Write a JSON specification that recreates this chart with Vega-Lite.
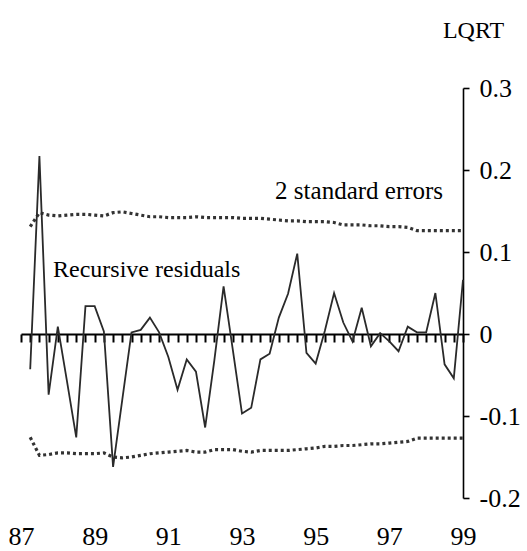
{
  "$schema": "https://vega.github.io/schema/vega-lite/v6.json",
  "width": 442,
  "height": 410,
  "autosize": {"type": "none"},
  "padding": {"left": 21, "top": 88, "right": 64, "bottom": 53},
  "background": "white",
  "config": {"view": {"stroke": null}, "font": "Times New Roman, Liberation Serif, DejaVu Serif, serif"},
  "data": {"values": [
    {"t": 1987.25, "res": -0.043, "up": 0.131, "lo": -0.126},
    {"t": 1987.5, "res": 0.217, "up": 0.148, "lo": -0.148},
    {"t": 1987.75, "res": -0.074, "up": 0.145, "lo": -0.147},
    {"t": 1988, "res": 0.009, "up": 0.144, "lo": -0.145},
    {"t": 1988.25, "res": -0.058, "up": 0.145, "lo": -0.145},
    {"t": 1988.5, "res": -0.126, "up": 0.146, "lo": -0.146},
    {"t": 1988.75, "res": 0.034, "up": 0.146, "lo": -0.146},
    {"t": 1989, "res": 0.034, "up": 0.145, "lo": -0.146},
    {"t": 1989.25, "res": 0.003, "up": 0.144, "lo": -0.145},
    {"t": 1989.5, "res": -0.162, "up": 0.148, "lo": -0.150},
    {"t": 1989.75, "res": -0.080, "up": 0.149, "lo": -0.151},
    {"t": 1990, "res": 0.002, "up": 0.147, "lo": -0.150},
    {"t": 1990.25, "res": 0.005, "up": 0.145, "lo": -0.148},
    {"t": 1990.5, "res": 0.020, "up": 0.143, "lo": -0.146},
    {"t": 1990.75, "res": 0.002, "up": 0.143, "lo": -0.145},
    {"t": 1991, "res": -0.028, "up": 0.142, "lo": -0.144},
    {"t": 1991.25, "res": -0.068, "up": 0.142, "lo": -0.143},
    {"t": 1991.5, "res": -0.031, "up": 0.142, "lo": -0.142},
    {"t": 1991.75, "res": -0.046, "up": 0.143, "lo": -0.144},
    {"t": 1992, "res": -0.114, "up": 0.142, "lo": -0.144},
    {"t": 1992.25, "res": -0.032, "up": 0.142, "lo": -0.141},
    {"t": 1992.5, "res": 0.058, "up": 0.142, "lo": -0.141},
    {"t": 1992.75, "res": -0.019, "up": 0.142, "lo": -0.141},
    {"t": 1993, "res": -0.097, "up": 0.141, "lo": -0.143},
    {"t": 1993.25, "res": -0.090, "up": 0.141, "lo": -0.144},
    {"t": 1993.5, "res": -0.031, "up": 0.141, "lo": -0.142},
    {"t": 1993.75, "res": -0.024, "up": 0.140, "lo": -0.142},
    {"t": 1994, "res": 0.020, "up": 0.139, "lo": -0.142},
    {"t": 1994.25, "res": 0.049, "up": 0.138, "lo": -0.142},
    {"t": 1994.5, "res": 0.098, "up": 0.138, "lo": -0.141},
    {"t": 1994.75, "res": -0.023, "up": 0.137, "lo": -0.140},
    {"t": 1995, "res": -0.036, "up": 0.137, "lo": -0.139},
    {"t": 1995.25, "res": 0.004, "up": 0.137, "lo": -0.137},
    {"t": 1995.5, "res": 0.050, "up": 0.136, "lo": -0.137},
    {"t": 1995.75, "res": 0.014, "up": 0.133, "lo": -0.136},
    {"t": 1996, "res": -0.009, "up": 0.133, "lo": -0.136},
    {"t": 1996.25, "res": 0.032, "up": 0.133, "lo": -0.135},
    {"t": 1996.5, "res": -0.015, "up": 0.132, "lo": -0.134},
    {"t": 1996.75, "res": 0.001, "up": 0.132, "lo": -0.134},
    {"t": 1997, "res": -0.009, "up": 0.131, "lo": -0.133},
    {"t": 1997.25, "res": -0.021, "up": 0.131, "lo": -0.132},
    {"t": 1997.5, "res": 0.009, "up": 0.130, "lo": -0.131},
    {"t": 1997.75, "res": 0.002, "up": 0.126, "lo": -0.127},
    {"t": 1998, "res": 0.002, "up": 0.126, "lo": -0.127},
    {"t": 1998.25, "res": 0.050, "up": 0.126, "lo": -0.127},
    {"t": 1998.5, "res": -0.037, "up": 0.126, "lo": -0.127},
    {"t": 1998.75, "res": -0.054, "up": 0.126, "lo": -0.127},
    {"t": 1999, "res": 0.066, "up": 0.126, "lo": -0.127}
  ]},
  "layer": [
    {
      "mark": {"type": "line", "color": "#333333", "strokeWidth": 3.2, "strokeDash": [3, 3]},
      "encoding": {
        "x": {"field": "t", "type": "quantitative",
          "scale": {"domain": [1987, 1999], "nice": false, "zero": false},
          "axis": {"orient": "bottom", "offset": -164, "labels": false, "grid": false, "title": null,
            "values": [1987, 1987.25, 1987.5, 1987.75, 1988, 1988.25, 1988.5, 1988.75, 1989, 1989.25, 1989.5, 1989.75, 1990, 1990.25, 1990.5, 1990.75, 1991, 1991.25, 1991.5, 1991.75, 1992, 1992.25, 1992.5, 1992.75, 1993, 1993.25, 1993.5, 1993.75, 1994, 1994.25, 1994.5, 1994.75, 1995, 1995.25, 1995.5, 1995.75, 1996, 1996.25, 1996.5, 1996.75, 1997, 1997.25, 1997.5, 1997.75, 1998, 1998.25, 1998.5, 1998.75, 1999],
            "domainColor": "black", "domainWidth": 2, "tickColor": "black", "tickWidth": 2, "tickSize": 8}},
        "y": {"field": "up", "type": "quantitative",
          "scale": {"domain": [-0.2, 0.3], "nice": false, "zero": false},
          "axis": {"orient": "right", "values": [-0.2, -0.1, 0, 0.1, 0.2, 0.3], "grid": false,
            "domainColor": "black", "domainWidth": 1.6, "tickColor": "black", "tickWidth": 1.6, "tickSize": 6,
            "labelFontSize": 26, "labelColor": "black", "labelPadding": 10,
            "labelOverlap": false, "labelFlush": false, "labelBound": false,
            "labelExpr": "datum.value < 0 ? '-' + format(-datum.value, '.1f') : (datum.value == 0 ? '0' : format(datum.value, '.1f'))",
            "title": "LQRT", "titleAngle": 0, "titleX": 10, "titleY": -51, "titleAlign": "center",
            "titleBaseline": "alphabetic", "titleFontSize": 24,
            "titleFontWeight": "normal", "titleColor": "black"}}
      }
    },
    {
      "mark": {"type": "line", "color": "#333333", "strokeWidth": 3.2, "strokeDash": [3, 3]},
      "encoding": {
        "x": {"field": "t", "type": "quantitative", "axis": null},
        "y": {"field": "lo", "type": "quantitative", "axis": null}
      }
    },
    {
      "mark": {"type": "line", "color": "#2a2a2a", "strokeWidth": 1.8},
      "encoding": {
        "x": {"field": "t", "type": "quantitative",
          "axis": {"orient": "bottom", "values": [1987, 1989, 1991, 1993, 1995, 1997, 1999],
            "domain": false, "ticks": false, "tickSize": 0, "grid": false, "title": null,
            "labelExpr": "format(datum.value % 100, 'd')",
            "labelFontSize": 26, "labelColor": "black",
            "labelBaseline": "alphabetic", "labelPadding": 46,
            "labelFlush": false, "labelOverlap": false, "labelBound": false}},
        "y": {"field": "res", "type": "quantitative", "axis": null}
      }
    },
    {
      "data": {"values": [{"label": "Recursive residuals"}]},
      "mark": {"type": "text", "align": "left", "baseline": "alphabetic", "fontSize": 24, "color": "black"},
      "encoding": {
        "x": {"datum": 1987.87, "type": "quantitative", "axis": null},
        "y": {"datum": 0.0695, "type": "quantitative", "axis": null},
        "text": {"field": "label"}
      }
    },
    {
      "data": {"values": [{"label": "2 standard errors"}]},
      "mark": {"type": "text", "align": "right", "baseline": "alphabetic", "fontSize": 25, "color": "black"},
      "encoding": {
        "x": {"datum": 1998.46, "type": "quantitative", "axis": null},
        "y": {"datum": 0.1646, "type": "quantitative", "axis": null},
        "text": {"field": "label"}
      }
    }
  ],
  "resolve": {"axis": {"x": "independent", "y": "independent"}}
}
